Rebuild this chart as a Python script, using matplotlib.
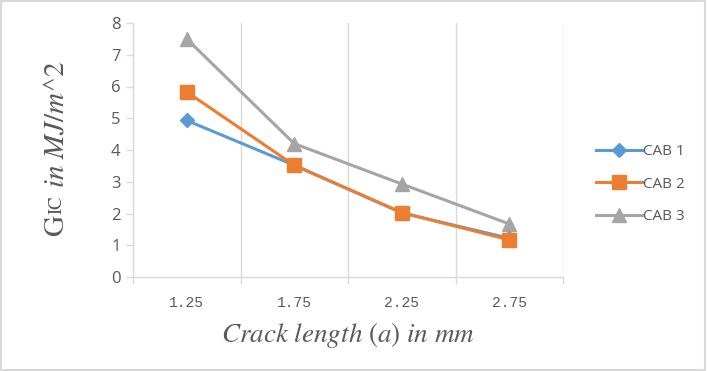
import matplotlib
matplotlib.use("Agg")
import matplotlib.pyplot as plt
from matplotlib.patches import Rectangle

categories = ["1.25", "1.75", "2.25", "2.75"]
cab1 = [4.93, 3.52, 2.02, 1.22]
cab2 = [5.83, 3.52, 2.03, 1.17]
cab3 = [7.50, 4.20, 2.93, 1.67]
series_names = ["CAB 1", "CAB 2", "CAB 3"]
y_ticks = [0, 1, 2, 3, 4, 5, 6, 7, 8]

plt.rcParams['mathtext.fontset'] = 'stix'

W, H = 707, 371
fig = plt.figure(figsize=(W/100, H/100), dpi=100)
ax = fig.add_axes([133/W, 1-277/H, (563-133)/W, (277-23)/H])

x = list(range(len(categories)))
ax.plot(x, cab1, color="#5B9BD5", lw=2.2, marker="D", ms=7, label=series_names[0], zorder=3)
ax.plot(x, cab2, color="#ED7D31", lw=2.2, marker="s", ms=9.5, label=series_names[1], zorder=4)
ax.plot(x, cab3, color="#A5A5A5", lw=2.2, marker="^", ms=10.5, label=series_names[2], zorder=2)

ax.set_xlim(-0.5, len(categories) - 0.5)
ax.set_ylim(0, 8)
ax.set_yticks(y_ticks)
ax.set_xticks(x)
ax.set_xticklabels(categories, family="Liberation Mono", fontsize=10.5, color="#595959")
ax.set_xticks([i - 0.5 for i in range(len(categories) + 1)], minor=True)
ax.tick_params(axis="x", which="major", length=0, pad=14)
ax.tick_params(axis="x", which="minor", length=5, color="#d9d9d9", width=1)
ax.tick_params(axis="y", length=5, color="#d9d9d9", width=1, labelsize=12, labelcolor="#595959", pad=4)
for lab in ax.get_yticklabels():
    lab.set_family("Open Sans")
ax.grid(axis="x", which="minor", color="#d9d9d9", lw=1)
ax.set_axisbelow(True)
for s in ["top", "right"]:
    ax.spines[s].set_visible(False)
for s in ["left", "bottom"]:
    ax.spines[s].set_color("#d9d9d9")
    ax.spines[s].set_linewidth(1)

ax.set_xlabel(r"$Crack\ length\ (a)\ in\ mm$", fontsize=19.5, color="#595959", labelpad=7)

# y label built from pieces (G + small-caps IC + math italic text)
renderer = fig.canvas.get_renderer()
xc = 57 / W
y0 = 1 - 236 / H
pieces = [("G", 21, "STIXGeneral"), ("IC", 13.5, "STIXGeneral"), (r"$\ in\ MJ/m^{\wedge}2$", 21, None)]
cur = y0
for txt, fs, fam in pieces:
    kw = dict(rotation=90, ha="center", va="bottom", fontsize=fs, color="#595959", transform=fig.transFigure)
    if fam:
        kw["family"] = fam
    t = fig.text(xc, cur, txt, **kw)
    bb = t.get_window_extent(renderer)
    cur += bb.height / H + 0.002

leg = ax.legend(loc="center left", bbox_to_anchor=(1.045, 0.366), frameon=False,
                prop={"family": "Open Sans", "size": 11},
                labelcolor="#595959", handlelength=3, labelspacing=1.15, handletextpad=0.05)

fig.patches.append(Rectangle((0.002, 0.003), 0.995, 0.993, transform=fig.transFigure,
                             fill=False, edgecolor="#d9d9d9", lw=1.5))

fig.savefig("out.png", dpi=100)
